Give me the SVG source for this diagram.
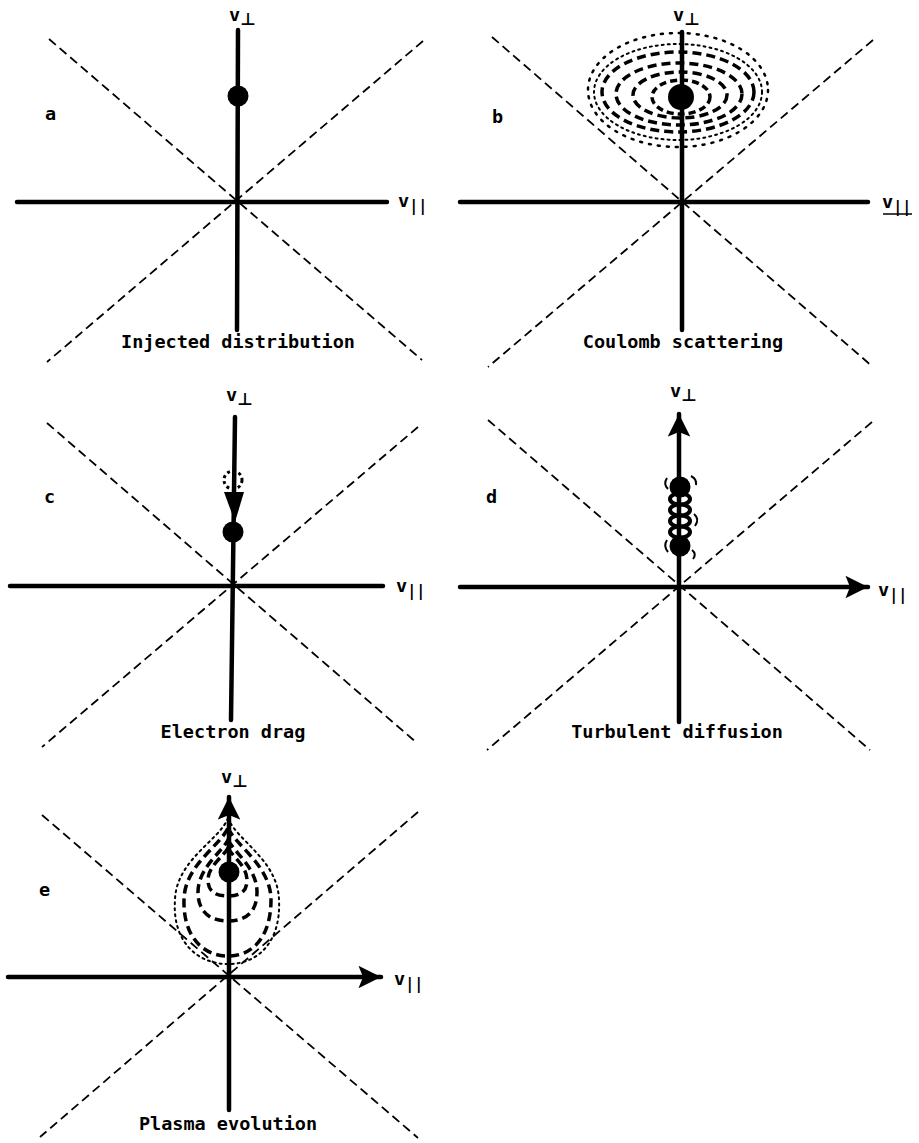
<svg xmlns="http://www.w3.org/2000/svg" width="919" height="1143" viewBox="0 0 919 1143">
<defs>
<style>
.axis{stroke:#000;stroke-width:4.5;fill:none;stroke-linecap:round}
.diag{stroke:#000;stroke-width:1.8;fill:none;stroke-dasharray:9 5}
.lbl{font-family:"DejaVu Sans Mono","Liberation Mono",monospace;font-weight:bold;font-size:18.5px;fill:#000}
.cap{font-family:"DejaVu Sans Mono","Liberation Mono",monospace;font-weight:bold;font-size:18.5px;fill:#000;text-anchor:middle}
.sub{font-size:15px}
.perp{font-family:"DejaVu Sans","Liberation Sans",sans-serif;font-size:17px;font-weight:bold}
.dot{fill:#000}
.dashc{fill:none;stroke:#000;stroke-width:3.5;stroke-dasharray:9 5}
.dotc{fill:none;stroke:#000;stroke-width:2.5;stroke-dasharray:2 7;stroke-linecap:round}
.dotc2{fill:none;stroke:#000;stroke-width:2;stroke-dasharray:2 4;stroke-linecap:round}
.ring{fill:none;stroke:#000;stroke-width:4}
.arc{fill:none;stroke:#000;stroke-width:2}
</style>
<marker id="ah" viewBox="0 0 10 10" refX="10" refY="5" markerWidth="6" markerHeight="5" orient="auto" markerUnits="strokeWidth">
<path d="M0,0 L10,5 L0,10 L2,5 Z" fill="#000"/>
</marker>
</defs>

<g id="panel-a">
<line class="diag" x1="49" y1="39" x2="422" y2="360"/>
<line class="diag" x1="423" y1="41" x2="47" y2="362"/>
<line class="axis" x1="17" y1="202" x2="387" y2="202"/>
<line class="axis" x1="238" y1="30" x2="237" y2="330"/>
<circle class="dot" cx="238" cy="96" r="10.5"/>
<text class="lbl" x="45" y="120">a</text>
<text class="lbl" x="229" y="21">v<tspan class="perp" dy="4">⊥</tspan></text>
<text class="lbl" x="398" y="207">v<tspan class="sub" dy="4">||</tspan></text>
<text class="cap" x="238" y="348">Injected distribution</text>
</g>

<g id="panel-b">
<line class="diag" x1="492" y1="37" x2="873" y2="367"/>
<line class="diag" x1="873" y1="40" x2="488" y2="367"/>
<ellipse class="dotc" cx="678" cy="90" rx="90" ry="57"/>
<ellipse class="dotc2" cx="678" cy="92" rx="84" ry="48"/>
<ellipse class="dashc" cx="678" cy="92" rx="76" ry="40"/>
<ellipse class="dashc" cx="679" cy="94" rx="63" ry="31"/>
<ellipse class="dashc" cx="680" cy="95" rx="47" ry="23"/>
<ellipse class="dashc" cx="681" cy="97" rx="29" ry="17" style="stroke-dasharray:7 4"/>
<line class="axis" x1="460" y1="202" x2="868" y2="202"/>
<line class="axis" x1="682" y1="32" x2="682" y2="330"/>
<circle class="dot" cx="681" cy="97" r="13"/>
<text class="lbl" x="492" y="123">b</text>
<text class="lbl" x="673" y="21">v<tspan class="perp" dy="4">⊥</tspan></text>
<text class="lbl" x="882" y="208">v<tspan class="sub" dy="4">||</tspan></text>
<line x1="883" y1="214" x2="912" y2="214" stroke="#000" stroke-width="1.5"/>
<text class="cap" x="683" y="348">Coulomb scattering</text>
</g>

<g id="panel-c">
<line class="diag" x1="47" y1="423" x2="417" y2="743"/>
<line class="diag" x1="418" y1="427" x2="42" y2="747"/>
<line class="axis" x1="10" y1="586" x2="383" y2="586"/>
<line class="axis" x1="235" y1="417" x2="231" y2="720"/>
<circle cx="233" cy="480" r="9" fill="none" stroke="#000" stroke-width="3" stroke-dasharray="3 3"/>
<path d="M224,492 L244,492 L235,522 Z" fill="#000"/>
<circle class="dot" cx="233" cy="532" r="10.5"/>
<text class="lbl" x="44" y="503">c</text>
<text class="lbl" x="226" y="401">v<tspan class="perp" dy="4">⊥</tspan></text>
<text class="lbl" x="396" y="592">v<tspan class="sub" dy="4">||</tspan></text>
<text class="cap" x="233" y="738">Electron drag</text>
</g>

<g id="panel-d">
<line class="diag" x1="488" y1="420" x2="870" y2="750"/>
<line class="diag" x1="872" y1="422" x2="487" y2="750"/>
<line class="axis" x1="460" y1="587" x2="868" y2="587" marker-end="url(#ah)"/>
<line class="axis" x1="679" y1="722" x2="679" y2="414" marker-end="url(#ah)"/>
<circle class="dot" cx="680" cy="487" r="10.5"/>
<ellipse class="ring" cx="680" cy="499" rx="10" ry="5.5"/>
<ellipse class="ring" cx="680" cy="510" rx="10" ry="5.5"/>
<ellipse class="ring" cx="680" cy="521" rx="10" ry="5.5"/>
<ellipse class="ring" cx="680" cy="532" rx="10" ry="5.5"/>
<circle class="dot" cx="680" cy="546" r="10.5"/>
<path class="arc" d="M667,478 Q663,484 668,489"/>
<path class="arc" d="M691,476 Q697,479 696,485"/>
<path class="arc" d="M694,514 Q700,519 695,526"/>
<path class="arc" d="M667,540 Q663,546 668,552"/>
<path class="arc" d="M692,550 Q697,554 693,559"/>
<text class="lbl" x="486" y="503">d</text>
<text class="lbl" x="670" y="397">v<tspan class="perp" dy="4">⊥</tspan></text>
<text class="lbl" x="878" y="596">v<tspan class="sub" dy="4">||</tspan></text>
<text class="cap" x="677" y="738">Turbulent diffusion</text>
</g>

<g id="panel-e">
<line class="diag" x1="42" y1="815" x2="418" y2="1138"/>
<line class="diag" x1="418" y1="812" x2="40" y2="1137"/>
<path class="dotc2" d="M228,818 C236,840 278,860 279,900 C281,940 260,964 228,964 C196,964 172,940 175,900 C176,860 220,840 228,818 Z"/>
<path class="dashc" d="M228,828 C236,846 271,866 271,900 C271,934 255,956 228,956 C201,956 183,934 184,900 C184,866 220,846 228,828 Z"/>
<path class="dashc" d="M228,840 C234,852 257,868 257,892 C257,912 246,921 228,921 C210,921 198,912 198,892 C198,868 222,852 228,840 Z"/>
<path class="dashc" d="M228,848 C232,856 247,866 247,880 C247,892 240,896 228,896 C216,896 208,892 208,880 C208,866 224,856 228,848 Z"/>
<line class="axis" x1="8" y1="977" x2="381" y2="977" marker-end="url(#ah)"/>
<line class="axis" x1="229" y1="1110" x2="229" y2="797" marker-end="url(#ah)"/>
<circle class="dot" cx="229" cy="872" r="10.5"/>
<text class="lbl" x="39" y="896">e</text>
<text class="lbl" x="221" y="783">v<tspan class="perp" dy="4">⊥</tspan></text>
<text class="lbl" x="394" y="985">v<tspan class="sub" dy="4">||</tspan></text>
<text class="cap" x="228" y="1130">Plasma evolution</text>
</g>
</svg>
